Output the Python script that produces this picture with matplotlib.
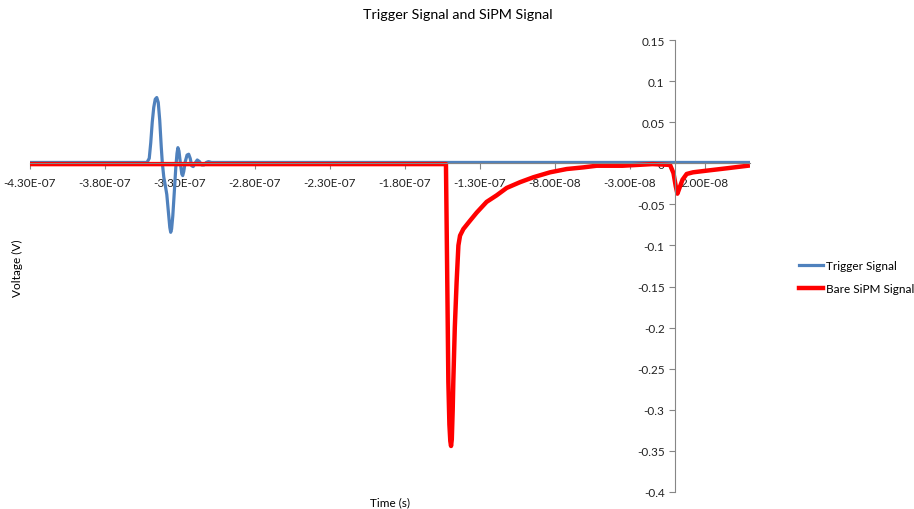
import numpy as np
import matplotlib.pyplot as plt
from matplotlib.ticker import FuncFormatter, FixedLocator

# Trigger pulse (time in ns, voltage in V)
trig_t = [-430, -352, -350.5, -349.5, -348.5, -347.5, -346.5, -345.5, -344.5, -343.5,
          -342.5, -341.8, -340.8, -339.8, -338.8, -337.8, -336.8, -336.2, -335.6, -334.8,
          -333.8, -332.8, -332, -331.4, -330.7, -329.8, -328.8, -328.2, -327.5, -326.5,
          -325.3, -324.2, -323.2, -322.2, -321.2, -320, -318.5, -317, -315.5, -314,
          -312.5, -311, -309, -305, 50]
trig_v = [0.001, 0.001, 0.006, 0.025, 0.050, 0.068, 0.078, 0.080, 0.074, 0.052,
          0.020, 0.001, -0.017, -0.027, -0.038, -0.058, -0.078, -0.084, -0.080, -0.064,
          -0.035, -0.005, 0.012, 0.019, 0.015, 0.001, -0.013, -0.015, -0.010, 0.002,
          0.010, 0.011, 0.006, -0.003, -0.004, 0.000, 0.004, 0.002, -0.002, -0.002,
          0.001, 0.002, 0.001, 0.001, 0.001]

# Bare SiPM response (time in ns, voltage in V)
sipm_t = [-430, -152.7, -151.9, -151.1, -150.4, -149.8, -149.3, -148.8, -148.2, -147.8,
          -146.8, -145.6, -144.4, -143.3, -141.1, -136.7, -132.2, -125.6, -118.9, -112.2,
          -103.3, -94.4, -83.3, -72.2, -61.1, -52.2, -35, -15, -3.3, -1,
          0.5, 1.6, 3, 5, 7.8, 12, 21, 35, 48.5]
sipm_v = [-0.001, -0.001, -0.130, -0.266, -0.318, -0.338, -0.344, -0.336, -0.300, -0.266,
          -0.200, -0.145, -0.100, -0.088, -0.080, -0.070, -0.060, -0.047, -0.039, -0.030,
          -0.023, -0.017, -0.011, -0.007, -0.005, -0.003, -0.003, -0.001, -0.002, -0.012,
          -0.028, -0.037, -0.030, -0.020, -0.013, -0.011, -0.009, -0.006, -0.003]

x_ticks_ns = np.arange(-430, 21, 50)
y_ticks = np.round(np.arange(-0.4, 0.151, 0.05), 2)

plt.rcParams['font.family'] = ['Lato', 'DejaVu Sans']
axis_grey = '#868686'

fig = plt.figure(figsize=(9.14, 5.10), dpi=100)
ax = fig.add_axes([30/914, 1 - 493/510, 720/914, 452/510])

ax.plot(np.array(trig_t) * 1e-9, trig_v, color='#4F81BD', lw=2.3,
        solid_joinstyle='round', label='Trigger Signal')
ax.plot(np.array(sipm_t) * 1e-9, sipm_v, color='#FF0000', lw=3.2,
        solid_joinstyle='round', label='Bare SiPM Signal')

ax.set_xlim(-4.3e-7, 5e-8)
ax.set_ylim(-0.4, 0.15)

# axes cross at the origin, Excel style
ax.spines['left'].set_position(('data', 0))
ax.spines['bottom'].set_position(('data', 0))
for side in ('top', 'right'):
    ax.spines[side].set_visible(False)
for side in ('left', 'bottom'):
    ax.spines[side].set_color(axis_grey)
    ax.spines[side].set_linewidth(0.8)

ax.xaxis.set_major_locator(FixedLocator(x_ticks_ns * 1e-9))
ax.xaxis.set_major_formatter(FuncFormatter(lambda v, p: f'{v:.2E}'))
ax.yaxis.set_major_locator(FixedLocator(y_ticks))
ax.yaxis.set_major_formatter(FuncFormatter(lambda v, p: f'{v:g}' if abs(v) > 1e-9 else '0'))
ax.tick_params(axis='both', colors=axis_grey, labelcolor='#222222', labelsize=8.5,
               length=4, width=0.8)
ax.tick_params(axis='x', pad=6)

fig.text(458/914, 1 - 15/510, 'Trigger Signal and SiPM Signal', ha='center', va='center',
         fontsize=10.3)
fig.text(390/914, 1 - 503/510, 'Time (s)', ha='center', va='center', fontsize=8.5)
fig.text(17/914, 1 - 268/510, 'Voltage (V)', ha='center', va='center',
         rotation=90, fontsize=8.5)

fig.legend(loc='center left', bbox_to_anchor=(788/914, 1 - 278/510), frameon=False,
           fontsize=8.5, handlelength=2.1, handletextpad=0.2, labelspacing=1.0)

fig.savefig('out.png', dpi=100)
